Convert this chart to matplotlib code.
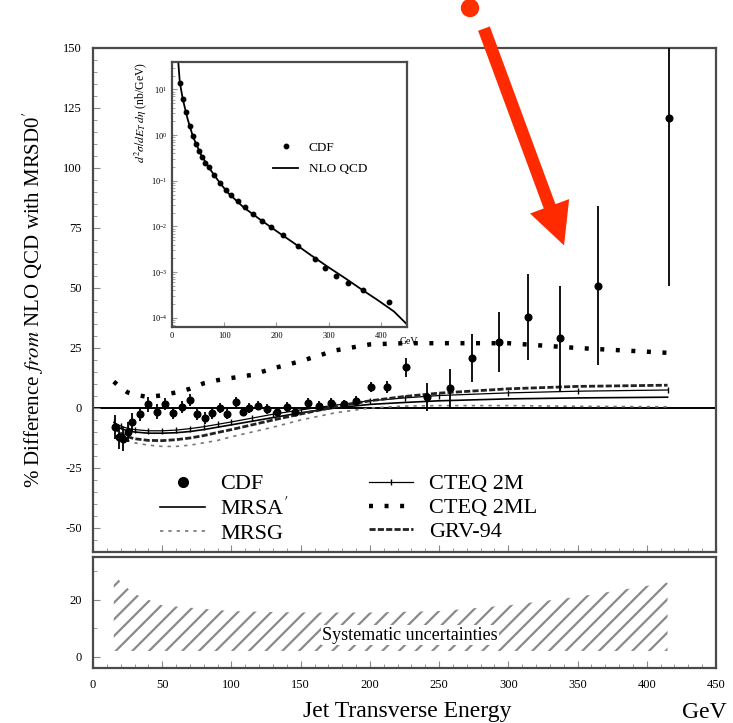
import numpy as np
import matplotlib.pyplot as plt
from matplotlib.lines import Line2D
from matplotlib.patches import Ellipse
from matplotlib.ticker import MultipleLocator, FixedLocator, LogLocator, NullFormatter

plt.rcParams['font.family'] = ['Liberation Serif', 'DejaVu Serif']
plt.rcParams['mathtext.fontset'] = 'stix'
plt.rcParams['axes.unicode_minus'] = False
plt.rcParams['hatch.color'] = '#8a8a8a'
plt.rcParams['hatch.linewidth'] = 1.6

# CDF points: % difference from NLO QCD (MRSD0')
et = [16, 19, 22, 25, 28, 34, 40, 46, 52, 58, 64, 70, 75, 81, 86, 92, 97, 103, 108, 113,
      119, 126, 133, 140, 146, 155, 163, 172, 181, 190, 201, 212, 226, 241, 258, 274,
      293, 314, 337, 365, 416]
diff = [-8, -12, -13, -10, -6, -2.5, 1.5, -1.5, 1.5, -2, 0.5, 3.5, -2.5, -4, -2, 0, -2.5,
        2.5, -1.5, 0, 1, -0.5, -1.5, 0.5, -1.5, 2, 1, 2, 1.5, 3, 8.7, 8.7, 17, 4.6, 8.3,
        21, 27.5, 38, 29, 51, 121]
err = [5, 5, 5, 4, 4, 3, 3, 3, 2.5, 2.5, 2.5, 2.5, 2.5, 2.5, 2.5, 2, 2, 2, 2, 2, 2, 2, 2,
       2, 2, 2, 2, 2, 2, 2, 2, 2.5, 4, 6, 8, 10, 12.5, 18, 22, 33, 70]

# theory curves relative to MRSD0'
et_th = [15, 20, 25, 30, 40, 50, 60, 70, 80, 90, 100, 115, 130, 150, 175, 200, 225, 250, 300, 350, 415]
mrsa = [-7, -8.5, -9.5, -10, -10.5, -10.5, -10.3, -9.8, -9, -8, -7, -5.5, -4, -2, 0, 1.5,
        2.3, 3, 3.8, 4.2, 4.5]
mrsg = [-9, -12, -13.5, -14.5, -15.5, -16, -16, -15.5, -14.5, -13.5, -12, -10, -8, -5, -2,
        0, 0.8, 1, 1, 0.7, 0.5]
cteq2m = [-6, -7.5, -8.5, -9, -9.5, -9.5, -9.2, -8.6, -7.8, -6.8, -5.8, -4.2, -2.6, -0.8,
          1.2, 3, 4.2, 5.2, 6.3, 7, 7.5]
cteq2ml = [11, 8.5, 6.5, 5.5, 4.6, 5.3, 6.5, 8, 10.3, 11.6, 12.5, 13.8, 16.5, 19.5, 24,
           26.5, 27, 27, 27, 25, 23]
grv94 = [-8, -10.5, -12, -12.8, -13.5, -13.6, -13.2, -12.5, -11.5, -10.2, -9, -7, -5,
         -2.5, 0.5, 3, 4.8, 6.2, 8, 9, 9.5]

# systematic uncertainty band (%)
syst_et = [15, 20, 30, 40, 50, 75, 100, 150, 200, 250, 300, 350, 415]
syst_hi = [30, 26, 22, 20, 18, 17, 16, 15.5, 15.5, 16, 18, 21, 26]
syst_lo = [2, 2, 2, 2, 2, 2, 2, 2, 2, 2, 2, 2, 2]

# inset: cross section (log10 nb/GeV)
ins_et = [15, 21, 27, 34, 40, 46, 52, 58, 64, 70, 81, 92, 103, 113, 126, 140, 155, 172,
          190, 212, 241, 274, 293, 314, 337, 365, 416]
ins_log = [1.15, 0.8, 0.5, 0.2, -0.03, -0.2, -0.35, -0.48, -0.6, -0.7, -0.88, -1.05, -1.2,
           -1.32, -1.45, -1.58, -1.72, -1.87, -2.02, -2.18, -2.42, -2.72, -2.9, -3.08,
           -3.24, -3.4, -3.65]
nlo_et = [12, 15, 21, 30, 40, 55, 73, 90, 106, 137, 169, 200, 233, 265, 298, 330, 362, 395, 425, 448]
nlo_log = [1.6, 1.15, 0.77, 0.35, -0.03, -0.42, -0.75, -1.02, -1.25, -1.58, -1.85, -2.1,
           -2.36, -2.62, -2.88, -3.12, -3.37, -3.62, -3.86, -4.12]

W, H = 733, 723
fig = plt.figure(figsize=(W / 100, H / 100), dpi=100)
frame_c = '#4a4a4a'

ax = fig.add_axes([93 / W, 1 - 552 / H, 623 / W, 504 / H])
ax2 = fig.add_axes([93 / W, 1 - 668 / H, 623 / W, 111 / H])
axi = fig.add_axes([172 / W, 1 - 327 / H, 235 / W, 265 / H])

# ---- main panel
ax.axhline(0, color='black', lw=1.4, zorder=1)
l_mrsa, = ax.plot(et_th, mrsa, color='black', lw=1.2)
l_mrsg, = ax.plot(et_th, mrsg, color='#777777', lw=1.2, ls=(0, (2, 3)))
l_c2m, = ax.plot(et_th, cteq2m, color='black', lw=0.9, marker='|', ms=4)
l_c2ml, = ax.plot(et_th, cteq2ml, color='black', lw=3.2, ls=(0, (0.9, 2.6)))
l_grv, = ax.plot(et_th, grv94, color='#222222', lw=2.0, ls=(0, (2.2, 0.8)))
ax.errorbar(et, diff, yerr=err, fmt='o', color='black', ms=4.8, elinewidth=1.3,
            capsize=0, zorder=5)
cdf_h = Line2D([], [], ls='none', marker='o', color='black', ms=7)

ax.set_xlim(0, 450)
ax.set_ylim(-60, 150)
ax.yaxis.set_major_locator(FixedLocator([-50, -25, 0, 25, 50, 75, 100, 125, 150]))
ax.yaxis.set_minor_locator(MultipleLocator(5))
ax.xaxis.set_major_locator(MultipleLocator(50))
ax.xaxis.set_minor_locator(MultipleLocator(10))
ax.tick_params(axis='x', which='both', labelbottom=False)
ax.tick_params(which='both', direction='in', color='#888888')
ax.tick_params(which='major', length=5)
ax.tick_params(which='minor', length=3)
ax.tick_params(axis='y', labelsize=9, pad=8)
ax.set_ylabel("% Difference $\\mathit{from}$ NLO QCD with MRSD0$^{\\prime}$", fontsize=15,
              labelpad=12)

ax.legend([cdf_h, l_mrsa, l_mrsg, l_c2m, l_c2ml, l_grv],
          ['CDF', "MRSA$^{\\prime}$", 'MRSG', 'CTEQ 2M', 'CTEQ 2ML', 'GRV-94'],
          ncol=2, frameon=False, loc='upper left', bbox_to_anchor=(0.108, 0.155),
          borderaxespad=0, borderpad=0, fontsize=16, labelspacing=0.15, handlelength=2.0,
          handletextpad=0.7, columnspacing=3.6)

# ---- inset
l_nlo, = axi.plot(nlo_et, np.power(10.0, nlo_log), color='black', lw=1.3)
p_cdf, = axi.plot(ins_et, np.power(10.0, ins_log), 'o', color='black', ms=3.2)
axi.set_yscale('log')
axi.set_xlim(0, 450)
axi.set_ylim(10 ** -4.2, 10 ** 1.6)
axi.xaxis.set_major_locator(FixedLocator([0, 100, 200, 300, 400]))
axi.yaxis.set_major_locator(LogLocator(base=10))
axi.yaxis.set_minor_formatter(NullFormatter())
axi.tick_params(which='both', direction='in', labelsize=6, color='#999999')
axi.set_ylabel("$d^2\\sigma/dE_T\\,d\\eta$ (nb/GeV)", fontsize=8.5, loc='top', labelpad=1)
axi.text(0.97, -0.055, 'GeV', transform=axi.transAxes, fontsize=7, va='center')
axi.legend([p_cdf, l_nlo], ['CDF', 'NLO QCD'], frameon=False, loc='upper left',
           bbox_to_anchor=(0.43, 0.70), borderaxespad=0, borderpad=0, fontsize=9.5,
           labelspacing=0.7, handlelength=1.9, handletextpad=0.8)

# ---- lower panel: systematic uncertainties
ax2.fill_between(syst_et, syst_lo, syst_hi, facecolor='white', edgecolor='#8a8a8a',
                 hatch='//', linewidth=0)
ax2.text(229, 7.5, 'Systematic uncertainties', fontsize=13, ha='center', va='center',
         bbox=dict(facecolor='white', edgecolor='none', pad=1))
ax2.set_xlim(0, 450)
ax2.set_ylim(-4, 35)
ax2.yaxis.set_major_locator(FixedLocator([0, 20]))
ax2.yaxis.set_minor_locator(FixedLocator([10, 30]))
ax2.xaxis.set_major_locator(MultipleLocator(50))
ax2.xaxis.set_minor_locator(MultipleLocator(10))
ax2.tick_params(which='both', direction='in', color='#888888')
ax2.tick_params(which='major', length=5)
ax2.tick_params(which='minor', length=3)
ax2.tick_params(labelsize=9, pad=8)

for a in (ax, ax2, axi):
    for s in a.spines.values():
        s.set_color(frame_c)
        s.set_linewidth(1.6)

fig.text(407 / W, 1 - 712 / H, 'Jet Transverse Energy', fontsize=17, ha='center', va='center')
fig.text(704 / W, 1 - 712 / H, 'GeV', fontsize=17, ha='center', va='center')

# red arrow overlay
fig.add_artist(Ellipse((470 / W, 1 - 8 / H), 17 / W, 17 / H, transform=fig.transFigure,
                       color='#ff3000'))
ax.annotate('', xy=(565, H - 248), xycoords='figure pixels', xytext=(483, H - 26),
            textcoords='figure pixels', annotation_clip=False,
            arrowprops=dict(arrowstyle='simple,head_length=1.0,head_width=1.0,tail_width=0.3',
                            mutation_scale=30, color='#ff2a00', lw=0))

fig.savefig('out.png', dpi=100)
